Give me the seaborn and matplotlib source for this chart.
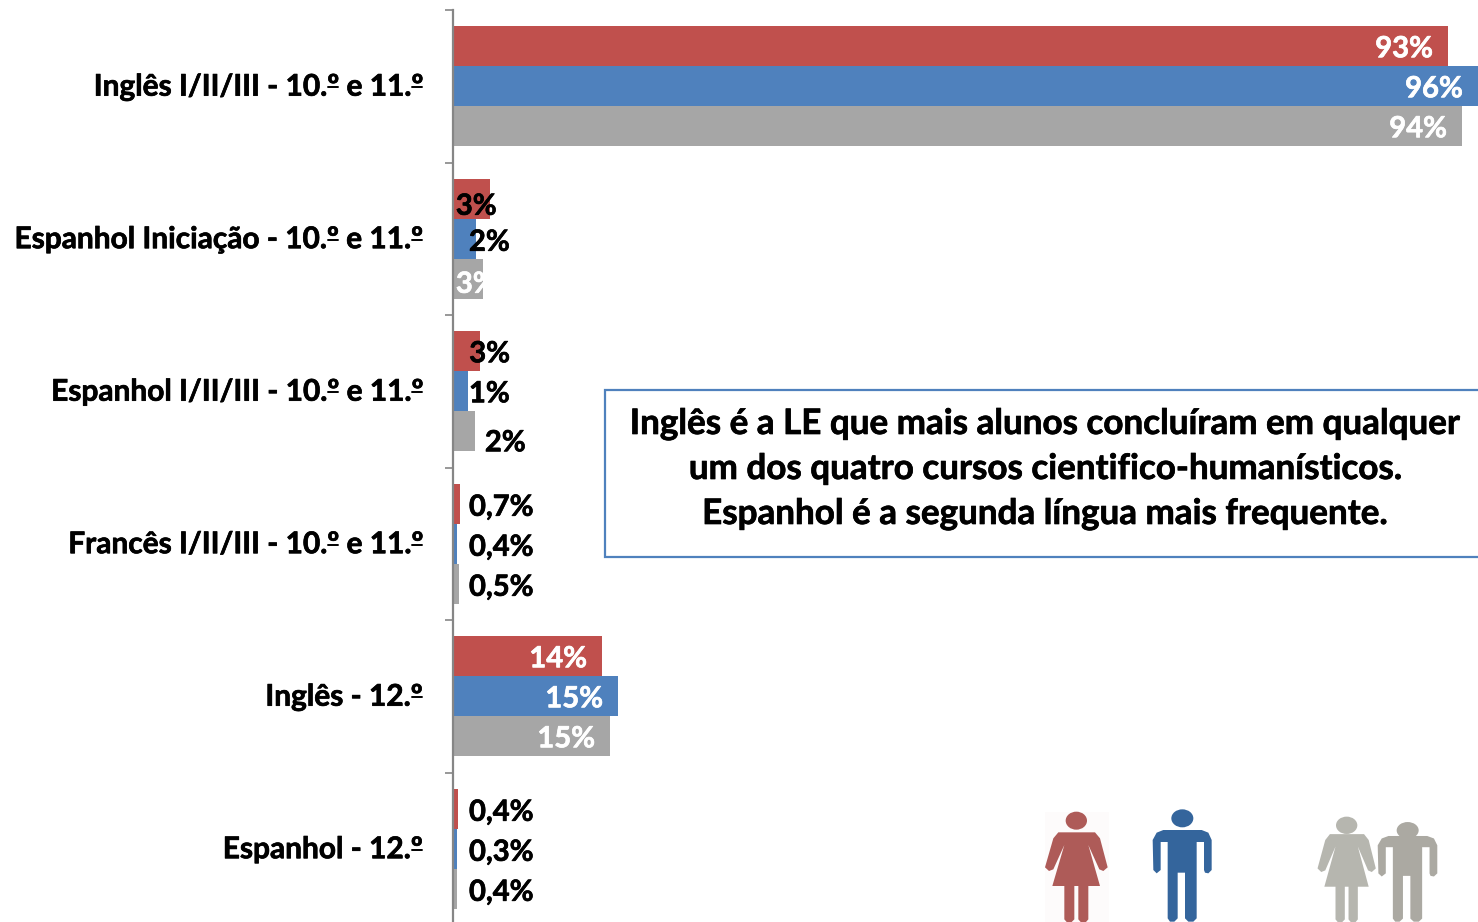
import matplotlib
matplotlib.use("Agg")
import matplotlib.patheffects as pe
import matplotlib.pyplot as plt
import pandas as pd
import seaborn as sns
from matplotlib.lines import Line2D
from matplotlib.patches import Ellipse, Polygon, Rectangle
from matplotlib.transforms import ScaledTranslation

sns.set_theme(style="white")
plt.rcParams["font.family"] = ["Lato", "DejaVu Sans"]

W, H = 1478, 922

courses = [
    "Inglês I/II/III - 10.º e 11.º",
    "Espanhol Iniciação - 10.º e 11.º",
    "Espanhol I/II/III - 10.º e 11.º",
    "Francês I/II/III - 10.º e 11.º",
    "Inglês - 12.º",
    "Espanhol - 12.º",
]
groups = ["Mulheres", "Homens", "Total"]
women = [93.2, 3.45, 2.55, 0.7, 13.95, 0.45]
men = [96.0, 2.15, 1.4, 0.4, 15.45, 0.35]
total = [94.5, 2.8, 2.05, 0.55, 14.7, 0.4]
women_labels = ["93%", "3%", "3%", "0,7%", "14%", "0,4%"]
men_labels = ["96%", "2%", "1%", "0,4%", "15%", "0,3%"]
total_labels = ["94%", "3%", "2%", "0,5%", "15%", "0,4%"]
note_lines = [
    "Inglês é a LE que mais alunos concluíram em qualquer",
    "um dos quatro cursos cientifico-humanísticos.",
    "Espanhol é a segunda língua mais frequente.",
]

RED, BLUE, GREY = "#C0504D", "#4F81BD", "#A6A6A6"
AXIS = "#868686"
HEAVY = [pe.withStroke(linewidth=0.5, foreground="black")]

df = pd.DataFrame({
    "curso": courses * 3,
    "sexo": [g for g in groups for _ in courses],
    "valor": women + men + total,
})

fig = plt.figure(figsize=(W / 100, H / 100), dpi=100)
ax = fig.add_axes([453 / W, 0, (W - 453) / W, (H - 10) / H])

sns.barplot(data=df, y="curso", x="valor", hue="sexo", hue_order=groups, order=courses,
            palette=[RED, BLUE, GREY], width=0.787, saturation=1, linewidth=0, legend=False, ax=ax)

ax.set_xlim(0, 96)
ax.set_xlabel("")
ax.set_ylabel("")
ax.xaxis.set_visible(False)
for side in ["top", "right", "bottom"]:
    ax.spines[side].set_visible(False)
ax.spines["left"].set_color(AXIS)
ax.spines["left"].set_linewidth(1.6)

# category labels sit apart from the tick marks, which fall between groups
ax.tick_params(axis="y", which="major", length=0, pad=21.6)
ax.set_yticks([i + 0.5 for i in range(-1, 5)], minor=True)
ax.tick_params(axis="y", which="minor", length=6, width=1.2, color=AXIS, left=True)
ax.set_ylim(5.48, -0.5)
raise_labels = ScaledTranslation(0, 1.5 / 72, fig.dpi_scale_trans)
for lab in ax.get_yticklabels():
    lab.set_fontsize(21.5)
    lab.set_fontweight("bold")
    lab.set_color("black")
    lab.set_path_effects(HEAVY)
    lab.set_transform(lab.get_transform() + raise_labels)

# (dx from bar end in px, dy from bar centre in px, ha, colour)
white_inside = (-15, -3, "right", "white")
label_style = {
    (0, 0): white_inside, (1, 0): white_inside, (2, 0): white_inside,
    (0, 4): white_inside, (1, 4): white_inside, (2, 4): white_inside,
    (0, 1): (-34, -8, "left", "black"),
    (1, 1): (-7, -4, "left", "black"),
    (2, 1): (-27, -6, "left", "white"),
    (0, 2): (-11, -3, "left", "black"),
    (1, 2): (1, -3, "left", "black"),
    (2, 2): (10, -12, "left", "black"),
}
all_labels = [women_labels, men_labels, total_labels]
for g, container in enumerate(ax.containers):
    for c, bar in enumerate(container):
        style = label_style.get((g, c))
        if style is None:
            style = (469 - 453 - bar.get_width() * (W - 453) / 96, -4, "left", "black")
        dx, dy, ha, color = style
        t = ax.annotate(all_labels[g][c], xy=(bar.get_width(), bar.get_y() + bar.get_height() / 2),
                        xytext=(dx, dy), textcoords="offset pixels", ha=ha, va="center",
                        fontsize=21, fontweight="bold", color=color, annotation_clip=False)
        t.set_path_effects([pe.withStroke(linewidth=0.5, foreground=color)])
        if (g, c) == (2, 1):
            t.set_clip_path(bar)

# overlay in picture pixels for the note box and the pictograms
over = fig.add_axes([0, 0, 1, 1], facecolor="none")
over.set_xlim(0, W)
over.set_ylim(H, 0)
over.axis("off")

over.add_patch(Rectangle((604.5, 389.5), 900, 167, facecolor="white", edgecolor=BLUE, linewidth=1.6))
for line, y in zip(note_lines, [424, 469, 514]):
    over.text(1045, y, line, ha="center", va="center", fontsize=25.2, fontweight="bold", color="black",
              path_effects=HEAVY)

# the ordinal sign is underlined in the original typeface, Lato's is not
fig.canvas.draw()
renderer = fig.canvas.get_renderer()
for lab in ax.get_yticklabels():
    text = lab.get_text()
    box = lab.get_window_extent(renderer)
    at = text.index("º")
    while at >= 0:
        probe = over.text(0, 0, text[at + 1:] + ".", fontsize=21.5, fontweight="bold")
        tail = probe.get_window_extent(renderer).width
        probe.remove()
        probe = over.text(0, 0, ".", fontsize=21.5, fontweight="bold")
        tail -= probe.get_window_extent(renderer).width
        probe.remove()
        x1 = box.x1 - tail
        over.add_line(Line2D([x1 - 11, x1 - 1], [H - box.y0 - 13.5] * 2, color="black", linewidth=1.4))
        at = text.find("º", at + 1)

woman_shape = [(175, 157), (285, 157), (300, 175), (323, 262), (310, 273), (298, 268), (265, 195),
               (300, 318), (265, 318), (265, 418), (258, 426), (242, 426), (235, 418), (235, 318),
               (223, 318), (223, 418), (215, 426), (200, 426), (193, 418), (193, 318), (157, 318),
               (193, 195), (160, 268), (147, 273), (135, 262), (160, 175)]
man_shape = [(490, 150), (605, 150), (625, 158), (635, 180), (635, 270), (625, 280), (615, 278), (612, 270),
             (612, 186), (590, 186), (590, 415), (580, 425), (565, 425), (555, 415), (555, 278),
             (533, 278), (533, 415), (523, 425), (510, 425), (503, 415), (503, 186), (482, 186),
             (482, 270), (470, 280), (460, 270), (458, 180), (470, 158)]


def person(shape, head, radii, color, shift=(0, 0), scale=(1, 1), anchor=(0, 426)):
    def to_px(x, y):
        x = anchor[0] + (x - anchor[0]) * scale[0] + shift[0]
        y = anchor[1] + (y - anchor[1]) * scale[1] + shift[1]
        return 1000 + x / 3, 780 + y / 3

    over.add_patch(Polygon([to_px(x, y) for x, y in shape], closed=True, facecolor=color, edgecolor="none"))
    cx, cy = to_px(*head)
    over.add_patch(Ellipse((cx, cy), 2 * radii[0] / 3, 2 * radii[1] / 3, facecolor=color, edgecolor="none"))


over.add_patch(Rectangle((1045, 812), 64, 110, facecolor="#FDFBFB", edgecolor="none"))
person(woman_shape, (229, 122), (32, 27), "#AE5B58")
person(man_shape, (547, 115), (33, 27), "#34659C")
person(woman_shape, (229, 130), (32, 26), "#B6B6AF", shift=(811, 0), scale=(0.93, 0.98), anchor=(229, 426))
person(man_shape, (547, 132), (33, 25), "#ABA9A2", shift=(676, 0), scale=(1.01, 0.935), anchor=(547, 426))

fig.savefig("out.png", dpi=100)
